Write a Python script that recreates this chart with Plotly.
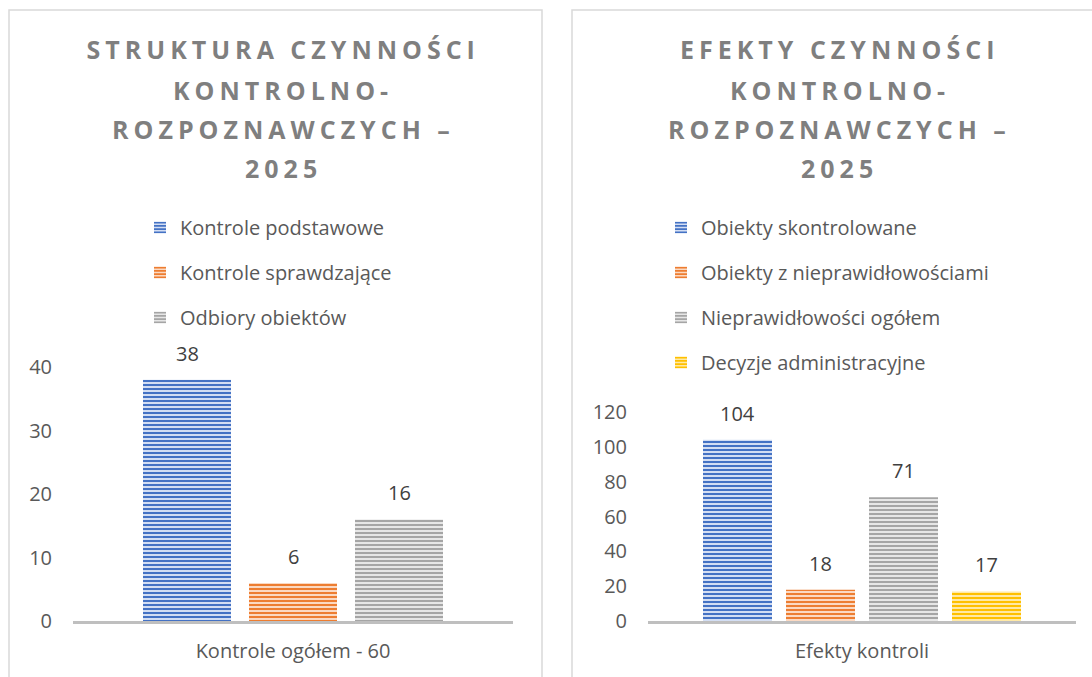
import plotly.graph_objects as go

# ---------------- data ----------------
title_left = ["STRUKTURA CZYNNOŚCI", "KONTROLNO-", "ROZPOZNAWCZYCH –", "2025"]
title_right = ["EFEKTY CZYNNOŚCI", "KONTROLNO-", "ROZPOZNAWCZYCH –", "2025"]

cat_left = "Kontrole ogółem - 60"
series_left = ["Kontrole podstawowe", "Kontrole sprawdzające", "Odbiory obiektów"]
values_left = [38, 6, 16]

cat_right = "Efekty kontroli"
series_right = ["Obiekty skontrolowane", "Obiekty z nieprawidłowościami",
                "Nieprawidłowości ogółem", "Decyzje administracyjne"]
values_right = [104, 18, 71, 17]

yticks_left = [0, 10, 20, 30, 40]
yticks_right = [0, 20, 40, 60, 80, 100, 120]

# ---------------- style ----------------
W, H = 1092, 677
FONT = "Open Sans"
TXT = "#595959"
colors = ["#4472C4", "#ED7D31", "#A5A5A5", "#FFC000"]
light = ["#d3def3", "#fbd9c2", "#e6e6e6", "#ffe9a6"]

def px_x(v):
    return v / W

def px_y(v):
    return 1 - v / H

fig = go.Figure()

def add_group(names, values, cat, xa, ya, legend, bar_w, slot_w):
    n = len(names)
    group = slot_w * n
    for i, (nm, v) in enumerate(zip(names, values)):
        off = -group / 2 + i * slot_w + (slot_w - bar_w) / 2
        fig.add_trace(go.Bar(
            x=[cat], y=[v], name=nm, xaxis=xa, yaxis=ya, legend=legend,
            legendgroup=legend + str(i),
            width=bar_w, offset=off,
            marker=dict(color=colors[i], line=dict(width=0),
                        pattern=dict(shape="-", fgcolor=colors[i], bgcolor=light[i],
                                     size=4, solidity=0.5, fillmode="replace")),
            hoverinfo="skip",
        ))
        fig.add_annotation(
            x=off + bar_w / 2, y=v, xref=xa, yref=ya, text=str(v),
            showarrow=False, yanchor="bottom", yshift=11,
            font=dict(family=FONT, size=20, color="#404040"),
        )

# left: axis 73..513 px (440px wide); bars 88px, slots 106px
add_group(series_left, values_left, cat_left, "x", "y", "legend", 88 / 440, 106 / 440)
# right: axis 648..1076 px (428px wide); bars 69px, slots 83px
add_group(series_right, values_right, cat_right, "x2", "y2", "legend2", 69 / 428, 83 / 428)

axis_common = dict(showgrid=False, zeroline=False, fixedrange=True, automargin=False)
fig.update_layout(
    width=W, height=H, autosize=False,
    margin=dict(l=0, r=0, t=0, b=0, pad=0, autoexpand=False),
    paper_bgcolor="white", plot_bgcolor="white",
    barmode="overlay",
    font=dict(family=FONT, color=TXT),
    xaxis=dict(domain=[px_x(73), px_x(513)], anchor="y", showline=True,
               linecolor="#bfbfbf", linewidth=3, ticks="", ticklabelstandoff=10,
               tickfont=dict(size=20, color=TXT), range=[-0.5, 0.5], **axis_common),
    yaxis=dict(domain=[px_y(621), px_y(367)], anchor="x", range=[0, 40],
               tickvals=yticks_left, showline=False, ticks="", ticklabelstandoff=20,
               tickfont=dict(size=20, color=TXT), **axis_common),
    xaxis2=dict(domain=[px_x(648), px_x(1076)], anchor="y2", showline=True,
                linecolor="#bfbfbf", linewidth=3, ticks="", ticklabelstandoff=10,
                tickfont=dict(size=20, color=TXT), range=[-0.5, 0.5], **axis_common),
    yaxis2=dict(domain=[px_y(621), px_y(412)], anchor="x2", range=[0, 120],
                tickvals=yticks_right, showline=False, ticks="", ticklabelstandoff=20,
                tickfont=dict(size=20, color=TXT), **axis_common),
    legend=dict(x=px_x(140), y=px_y(208), xanchor="left", yanchor="top",
                orientation="v", tracegroupgap=16, bgcolor="rgba(0,0,0,0)",
                font=dict(size=20, color=TXT), itemclick=False, itemdoubleclick=False),
    legend2=dict(x=px_x(661), y=px_y(208), xanchor="left", yanchor="top",
                 orientation="v", tracegroupgap=16, bgcolor="rgba(0,0,0,0)",
                 font=dict(size=20, color=TXT), itemclick=False, itemdoubleclick=False),
    showlegend=True,
)

# panel borders
fig.add_shape(type="rect", xref="paper", yref="paper",
              x0=px_x(9), x1=px_x(542), y0=px_y(700), y1=px_y(10),
              line=dict(color="#d9d9d9", width=1.5), fillcolor="rgba(0,0,0,0)", layer="below")
fig.add_shape(type="rect", xref="paper", yref="paper",
              x0=px_x(572), x1=px_x(1120), y0=px_y(700), y1=px_y(10),
              line=dict(color="#d9d9d9", width=1.5), fillcolor="rgba(0,0,0,0)", layer="below")

# titles (one annotation per line)
SP = 5
line_y = [49, 90, 129, 168]
for lines, cx in ((title_left, 280.5), (title_right, 837)):
    for t, yy in zip(lines, line_y):
        fig.add_annotation(
            x=px_x(cx + SP / 2), y=px_y(yy), xref="paper", yref="paper",
            text=t, showarrow=False, xanchor="center", yanchor="middle",
            font=dict(family=FONT, size=25, color="#7f7f7f", weight="bold"),
        )

post = """
document.body.style.margin='0';
document.querySelectorAll('text.annotation-text').forEach(function(el){
  if (el.style.fontWeight === 'bold' || el.style.fontWeight === '700') {
    el.style.letterSpacing = '%dpx';
  }
});
""" % SP

fig.write_html("out.html", post_script=post, config={"displayModeBar": False})
